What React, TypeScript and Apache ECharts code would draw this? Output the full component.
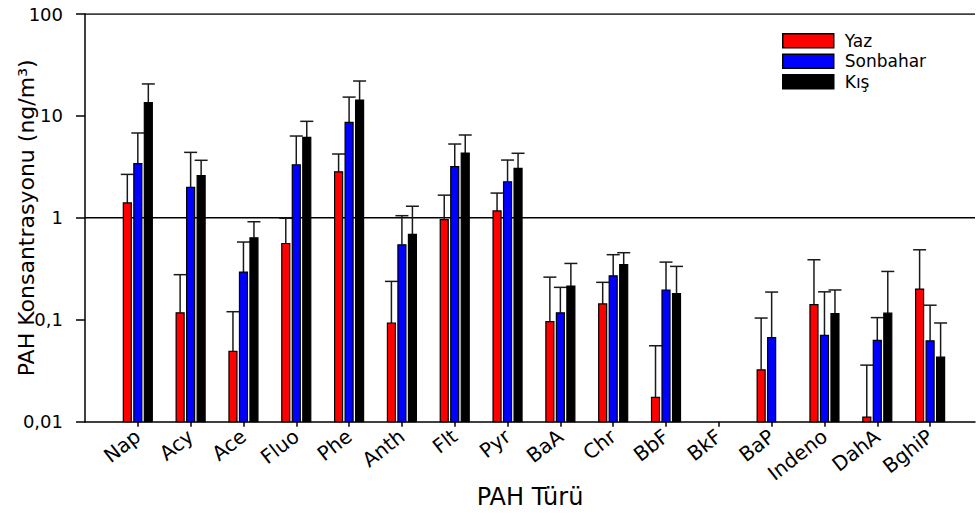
import React, { useEffect, useRef } from "react";
import * as echarts from "echarts";

const categories = ["Nap", "Acy", "Ace", "Fluo", "Phe", "Anth", "Flt", "Pyr", "BaA", "Chr", "BbF", "BkF", "BaP", "Indeno", "DahA", "BghiP"];

const seriesNames = ["Yaz", "Sonbahar", "Kış"];
const seriesColors = ["#ff0000", "#0000ff", "#000000"];

const yazValues: (number | null)[] = [1.4, 0.117, 0.049, 0.56, 2.83, 0.093, 0.96, 1.17, 0.096, 0.143, 0.0173, null, 0.0323, 0.141, 0.0111, 0.2];
const yazErrTop: (number | null)[] = [2.67, 0.277, 0.12, 0.99, 4.23, 0.238, 1.67, 1.75, 0.262, 0.233, 0.0556, null, 0.104, 0.388, 0.0359, 0.486];

const sonbaharValues: (number | null)[] = [3.4, 1.99, 0.294, 3.32, 8.65, 0.544, 3.18, 2.26, 0.117, 0.27, 0.196, null, 0.0667, 0.0703, 0.0628, 0.0622];
const sonbaharErrTop: (number | null)[] = [6.8, 4.39, 0.579, 6.35, 15.3, 1.05, 5.3, 3.69, 0.208, 0.435, 0.368, null, 0.187, 0.188, 0.105, 0.139];

const kisValues: (number | null)[] = [13.5, 2.59, 0.638, 6.17, 14.3, 0.689, 4.32, 3.06, 0.214, 0.347, 0.181, null, null, 0.115, 0.116, 0.043];
const kisErrTop: (number | null)[] = [20.6, 3.67, 0.916, 8.85, 22.0, 1.3, 6.5, 4.3, 0.357, 0.455, 0.334, null, null, 0.196, 0.298, 0.093];

const yTickLabels = ["0,01", "0,1", "1", "10", "100"];
const referenceLevels = [1, 100];

const FONT = "'DejaVu Sans', 'Liberation Sans', Arial, sans-serif";

function buildSeries(name: string, color: string, values: (number | null)[], errs: (number | null)[], offset: number) {
  const data = values
    .map((v, i) => (v == null ? null : [i, v, errs[i] == null ? v : errs[i]]))
    .filter((d) => d !== null);
  return {
    name,
    type: "custom",
    itemStyle: { color, borderColor: "#000", borderWidth: 1 },
    encode: { x: 0, y: [1, 2] },
    data,
    renderItem: (params: any, api: any) => {
      const x = api.value(0);
      const v = api.value(1);
      const e = api.value(2);
      const base = api.coord([x, 0.01]);
      const top = api.coord([x, v]);
      const errP = api.coord([x, e]);
      const cx = base[0] + offset;
      const lineStyle = { stroke: "#1a1a1a", lineWidth: 1.5 };
      return {
        type: "group",
        children: [
          { type: "line", shape: { x1: cx, y1: top[1], x2: cx, y2: errP[1] }, style: lineStyle },
          { type: "line", shape: { x1: cx - 6.5, y1: errP[1], x2: cx + 6.5, y2: errP[1] }, style: lineStyle },
          {
            type: "rect",
            shape: { x: cx - 4, y: top[1], width: 8, height: base[1] - top[1] },
            style: { fill: color, stroke: "#000", lineWidth: 1.2 },
          },
        ],
      };
    },
  };
}

export default function App() {
  const ref = useRef<HTMLDivElement>(null);
  useEffect(() => {
    if (!ref.current) return;
    const chart = echarts.init(ref.current, null, { renderer: "svg" });
    const tickIdx = categories.map((_, i) => i);
    const xMin = -1;
    const xMax = 15.85;
    const refSeries = referenceLevels.map((lv) => ({
      name: "ref" + lv,
      type: "line",
      silent: true,
      symbol: "none",
      lineStyle: { color: "#000", width: 1.5 },
      data: [
        [xMin, lv],
        [xMax, lv],
      ],
      z: 1,
    }));
    const option: any = {
      animation: false,
      textStyle: { fontFamily: FONT },
      grid: { left: 85, right: 1, top: 14, bottom: 93.3, containLabel: false, outerBoundsMode: "none" },
      legend: {
        left: 777,
        top: 26,
        orient: "vertical",
        itemWidth: 51,
        itemHeight: 14,
        itemGap: 1,
        icon: "rect",
        textStyle: { fontFamily: FONT, fontSize: 17, lineHeight: 19.5, color: "#000", padding: [0, 0, 0, 6] },
        data: seriesNames.map((n, i) => ({
          name: n,
          itemStyle: { color: seriesColors[i], borderColor: "#000", borderWidth: 1.5 },
        })),
      },
      xAxis: {
        type: "value",
        min: xMin,
        max: xMax,
        name: "PAH Türü",
        nameLocation: "middle",
        nameGap: 63,
        nameMoveOverlap: false,
        nameTextStyle: { fontFamily: FONT, fontSize: 24, color: "#000" },
        axisLine: { show: true, onZero: false, lineStyle: { color: "#000", width: 1.5 } },
        axisTick: { show: true, length: 5, customValues: tickIdx, lineStyle: { color: "#000", width: 1.5 } },
        axisLabel: {
          customValues: tickIdx,
          rotate: 38,
          fontSize: 20,
          color: "#000",
          fontFamily: FONT,
          margin: 12,
          formatter: (v: number) => categories[Math.round(v)] ?? "",
        },
        splitLine: { show: false },
      },
      yAxis: {
        type: "log",
        logBase: 10,
        min: 0.01,
        max: 100,
        name: "PAH Konsantrasyonu (ng/m³)",
        nameLocation: "middle",
        nameGap: 48,
        nameMoveOverlap: false,
        nameTextStyle: { fontFamily: FONT, fontSize: 22, color: "#000" },
        axisLine: { show: true, onZero: false, lineStyle: { color: "#000", width: 1.5 } },
        axisTick: { show: true, inside: false, length: 9, lineStyle: { color: "#000", width: 1.5 } },
        axisLabel: {
          fontSize: 18,
          color: "#000",
          fontFamily: FONT,
          margin: 22,
          formatter: (v: number) => {
            const idx = Math.round(Math.log10(v)) + 2;
            return yTickLabels[idx] ?? String(v).replace(".", ",");
          },
        },
        splitLine: { show: false },
        minorTick: { show: false },
      },
      series: [
        ...refSeries,
        buildSeries(seriesNames[0], seriesColors[0], yazValues, yazErrTop, -10.5),
        buildSeries(seriesNames[1], seriesColors[1], sonbaharValues, sonbaharErrTop, 0),
        buildSeries(seriesNames[2], seriesColors[2], kisValues, kisErrTop, 10.5),
      ],
    };
    chart.setOption(option);
    return () => chart.dispose();
  }, []);
  return <div ref={ref} style={{ position: "fixed", left: 0, top: 0, width: 976, height: 515, background: "#fff" }} />;
}
